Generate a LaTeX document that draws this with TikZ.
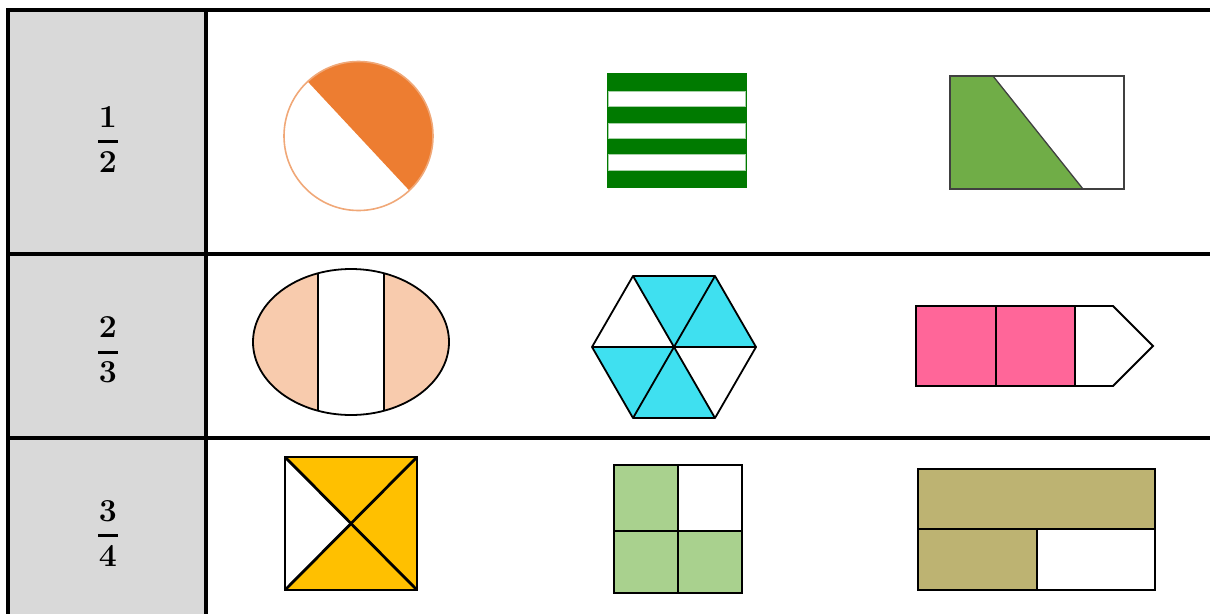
\documentclass[tikz,border=0pt]{standalone}
\usepackage{xcolor}
\usepackage{tikz}
\usetikzlibrary{positioning, calc}
\definecolor{cellgray}{HTML}{D9D9D9}
\definecolor{halforange}{HTML}{ED7D31}
\definecolor{rimorange}{HTML}{F0A878}
\definecolor{stripegreen}{HTML}{007A00}
\definecolor{grassgreen}{HTML}{70AD47}
\definecolor{peach}{HTML}{F8CBAD}
\definecolor{skycyan}{HTML}{3FE0F0}
\definecolor{rosepink}{HTML}{FF6699}
\definecolor{gold}{HTML}{FFC000}
\definecolor{leafgreen}{HTML}{A9D18E}
\definecolor{khaki}{HTML}{BDB372}
\tikzset{
  tableline/.style={line width=4pt, color=black},
  fraction/.style={
    font=\fontsize{32}{36}\selectfont\bfseries,
    align=center, inner sep=0pt,
  },
  thinline/.style={line width=1.3pt, color=black!75},
  midline/.style={line width=1.8pt, color=black},
  thickline/.style={line width=2.8pt, color=black},
}

\begin{document}
\begin{tikzpicture}[x=1pt, y=-1pt]

  \useasboundingbox (0,0) rectangle (1210,614);
  \fill[cellgray] (8,10) rectangle (206,614);

  \draw[tableline] (6,10) -- (1210,10);
  \draw[tableline] (8,8) -- (8,614);
  \draw[tableline] (206,8) -- (206,614);
  \draw[tableline] (8,254) -- (1210,254);
  \draw[tableline] (8,438) -- (1210,438);

  \node[fraction] (half) at (108,139) {1\\[-20pt]\rule{20pt}{3pt}\\[-7pt]2};
  \node[fraction] (twothirds) at (108,350) {2\\[-20pt]\rule{20pt}{3pt}\\[-7pt]3};
  \node[fraction] (threequarters) at (108,533) {3\\[-20pt]\rule{20pt}{3pt}\\[-7pt]4};

  % row one
  \coordinate (cc) at (358.5,136);
  \fill[halforange] (cc) ++(-133:74.5) arc[start angle=-133, end angle=47, radius=74.5] -- cycle;
  \draw[rimorange, line width=1.6pt] (cc) circle[radius=74.5];

  \fill[stripegreen] (607,73) rectangle (747,188);
  \filldraw[fill=white, draw=stripegreen!35, line width=0.8pt] (608.5,91.5) rectangle (745.5,106.5);
  \filldraw[fill=white, draw=stripegreen!35, line width=0.8pt] (608.5,123) rectangle (745.5,138.5);
  \filldraw[fill=white, draw=stripegreen!35, line width=0.8pt] (608.5,154.5) rectangle (745.5,170.5);

  \fill[grassgreen] (950,76) -- (993,76) -- (1083,189) -- (950,189) -- cycle;
  \draw[thinline] (950,76) rectangle (1124,189);
  \draw[thinline] (993,76) -- (1083,189);

  % row two
  \coordinate (ec) at (351,342);
  \fill[peach] (ec) ellipse[x radius=98, y radius=73];
  \begin{scope}
    \clip (ec) ellipse[x radius=98, y radius=73];
    \fill[white] (318,260) rectangle (384,425);
    \draw[midline] (318,260) -- (318,425);
    \draw[midline] (384,260) -- (384,425);
  \end{scope}
  \draw[midline] (ec) ellipse[x radius=98, y radius=73];

  \coordinate (hc) at (674,347);
  \fill[skycyan] (hc) -- +(-120:82) -- +(-60:82) -- cycle;
  \fill[skycyan] (hc) -- +(-60:82) -- +(0:82) -- cycle;
  \fill[skycyan] (hc) -- +(60:82) -- +(120:82) -- cycle;
  \fill[skycyan] (hc) -- +(120:82) -- +(180:82) -- cycle;
  \draw[midline, line join=round] (hc) +(0:82) -- +(60:82) -- +(120:82) -- +(180:82)
    -- +(240:82) -- +(300:82) -- cycle;
  \draw[midline] (hc) +(0:82) -- +(180:82);
  \draw[midline] (hc) +(60:82) -- +(240:82);
  \draw[midline] (hc) +(120:82) -- +(300:82);

  \fill[rosepink] (916,306) rectangle (1075,386);
  \draw[midline] (916,306) -- (1113,306) -- (1153,346) -- (1113,386) -- (916,386) -- cycle;
  \draw[midline] (996,306) -- (996,386);
  \draw[midline] (1075,306) -- (1075,386);

  % row three
  \fill[gold] (285,457) -- (417,457) -- (417,590) -- (285,590) -- (351,523.5) -- cycle;
  \draw[thickline] (285,457) rectangle (417,590);
  \draw[thickline] (285,457) -- (417,590);
  \draw[thickline] (285,590) -- (417,457);

  \fill[leafgreen] (614,465) rectangle (742,593);
  \fill[white] (678,465) rectangle (742,531);
  \draw[thickline] (614,465) rectangle (742,593);
  \draw[thickline] (678,465) -- (678,593);
  \draw[thickline] (614,531) -- (742,531);

  \fill[khaki] (918,469) rectangle (1155,590);
  \fill[white] (1037,529) rectangle (1155,590);
  \draw[thickline] (918,469) rectangle (1155,590);
  \draw[thickline] (918,529) -- (1155,529);
  \draw[thickline] (1037,529) -- (1037,590);

\end{tikzpicture}
\end{document}
